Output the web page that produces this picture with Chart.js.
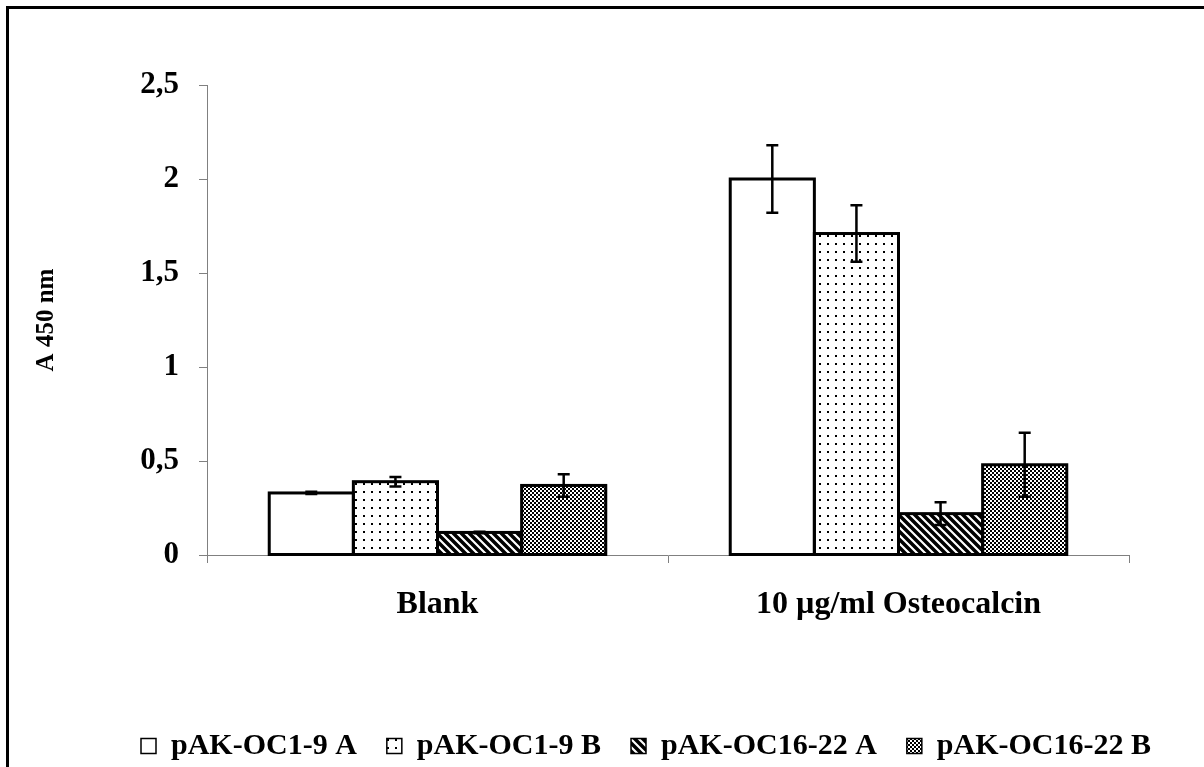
<!DOCTYPE html>
<html>
<head>
<meta charset="utf-8">
<script src="https://cdn.jsdelivr.net/npm/chart.js@4/dist/chart.umd.min.js"></script>
<style>
  html, body { margin: 0; padding: 0; background: #fff; }
  #wrap { width: 1204px; height: 767px; }
</style>
</head>
<body>
<div id="wrap"><canvas id="chart" width="1204" height="767"></canvas></div>
<script>
const categories = ["Blank", "10 µg/ml Osteocalcin"];
const seriesNames = ["pAK-OC1-9 A", "pAK-OC1-9 B", "pAK-OC16-22 A", "pAK-OC16-22 B"];
const oc19A = [0.33, 2.0];
const oc19B = [0.39, 1.71];
const oc1622A = [0.12, 0.22];
const oc1622B = [0.37, 0.48];
const errOc19A = [0.006, 0.18];
const errOc19B = [0.025, 0.15];
const errOc1622A = [0.004, 0.06];
const errOc1622B = [0.06, 0.17];
const yTicks = [0, 0.5, 1, 1.5, 2, 2.5];

const FONT = "'Liberation Serif', 'Times New Roman', serif";

// fill patterns
function makePattern(size, draw) {
  const c = document.createElement("canvas");
  c.width = size;
  c.height = size;
  const g = c.getContext("2d");
  g.fillStyle = "#fff";
  g.fillRect(0, 0, size, size);
  g.fillStyle = "#000";
  g.strokeStyle = "#000";
  draw(g);
  return g.createPattern(c, "repeat");
}

const ctx = document.getElementById("chart").getContext("2d");

const dots = makePattern(8, g => g.fillRect(3, 3, 2, 2));
const stripes = makePattern(8, g => {
  g.lineWidth = 3.5;
  g.beginPath();
  g.moveTo(-2, -2); g.lineTo(10, 10);
  g.moveTo(-10, -2); g.lineTo(2, 10);
  g.moveTo(6, -2); g.lineTo(18, 10);
  g.stroke();
});
const checker = makePattern(4, g => {
  g.fillRect(0, 0, 2, 2);
  g.fillRect(2, 2, 2, 2);
});

const errors = [errOc19A, errOc19B, errOc1622A, errOc1622B];

// bar outlines (centred on the edges so neighbouring bars share one line) + error bars
const errorBars = {
  id: "errorBars",
  afterDatasetsDraw(chart) {
    const y = chart.scales.y;
    const c = chart.ctx;
    c.save();
    c.strokeStyle = "#000";
    c.lineWidth = 3;
    c.lineJoin = "miter";
    chart.data.datasets.forEach((ds, i) => {
      chart.getDatasetMeta(i).data.forEach(bar => {
        const w = bar.width;
        c.strokeRect(bar.x - w / 2, bar.y, w, bar.base - bar.y);
      });
    });
    c.lineWidth = 2.5;
    chart.data.datasets.forEach((ds, i) => {
      chart.getDatasetMeta(i).data.forEach((bar, j) => {
        const v = ds.data[j], e = errors[i][j];
        const top = y.getPixelForValue(v + e);
        const bot = y.getPixelForValue(v - e);
        c.beginPath();
        c.moveTo(bar.x, top); c.lineTo(bar.x, bot);
        c.moveTo(bar.x - 6, top); c.lineTo(bar.x + 6, top);
        c.moveTo(bar.x - 6, bot); c.lineTo(bar.x + 6, bot);
        c.stroke();
      });
    });
    c.restore();
  }
};

const frame = {
  id: "frame",
  afterLayout(chart) {
    const lg = chart.legend;
    const pad = lg.options.labels.padding;
    const w = lg.width;
    lg.left = 141 - pad;
    lg.right = lg.left + w + 200;
    const h = lg.height;
    lg.top = 731 - pad;
    lg.bottom = lg.top + h;
  },
  beforeDraw(chart) {
    const c = chart.ctx;
    c.save();
    c.fillStyle = "#fff";
    c.fillRect(0, 0, chart.width, chart.height);
    c.fillStyle = "#000";
    c.fillRect(6, 6, 3, chart.height);
    c.fillRect(6, 6, chart.width, 3);
    c.restore();
  }
};

new Chart(ctx, {
  type: "bar",
  data: {
    labels: categories,
    datasets: [
      { label: seriesNames[0], data: oc19A, backgroundColor: "#fff" },
      { label: seriesNames[1], data: oc19B, backgroundColor: dots },
      { label: seriesNames[2], data: oc1622A, backgroundColor: stripes },
      { label: seriesNames[3], data: oc1622B, backgroundColor: checker }
    ].map(d => Object.assign(d, {
      borderColor: "#000",
      borderWidth: 0,
      inflateAmount: 0,
      barPercentage: 1,
      categoryPercentage: 0.73
    }))
  },
  options: {
    responsive: false,
    animation: false,
    layout: { padding: { top: 85, right: 75, bottom: 0, left: 0 } },
    plugins: {
      tooltip: { enabled: false },
      legend: {
        position: "bottom",
        align: "start",
        labels: {
          color: "#000",
          font: { family: FONT, size: 30, weight: "bold" },
          boxWidth: 15,
          boxHeight: 15,
          padding: 30,
          generateLabels(chart) {
            return Chart.defaults.plugins.legend.labels.generateLabels(chart).map(l => {
              l.lineWidth = 1.5;
              l.strokeStyle = "#000";
              return l;
            });
          }
        }
      }
    },
    scales: {
      x: {
        afterFit(s) {
          const lgH = s.chart.legend ? s.chart.legend.height : 0;
          s.height = 767 - 555 - lgH;
        },
        grid: { drawOnChartArea: false, color: "#808080", tickLength: 8, offset: true },
        border: { color: "#808080", width: 1 },
        ticks: {
          color: "#000",
          padding: 23,
          font: { family: FONT, size: 32, weight: "bold" }
        }
      },
      y: {
        min: 0,
        max: 2.5,
        afterFit(s) { s.width = 207; },
        afterBuildTicks(s) { s.ticks = yTicks.map(v => ({ value: v })); },
        grid: { drawOnChartArea: false, color: "#808080", tickLength: 8 },
        border: { color: "#808080", width: 1 },
        ticks: {
          color: "#000",
          padding: 20,
          font: { family: FONT, size: 31, weight: "bold" },
          callback: v => String(v).replace(".", ",")
        },
        title: {
          display: true,
          text: "A 450 nm",
          color: "#000",
          padding: { top: 32 },
          font: { family: FONT, size: 25, weight: "bold" }
        }
      }
    }
  },
  plugins: [errorBars, frame]
});
</script>
</body>
</html>
